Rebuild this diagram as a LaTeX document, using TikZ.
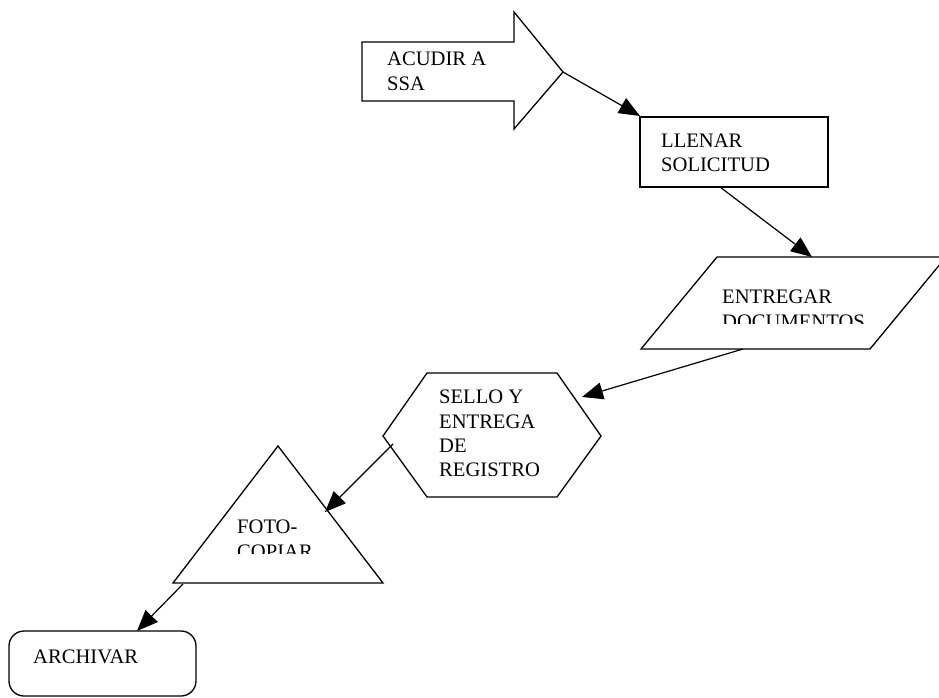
\documentclass[tikz,border=0pt]{standalone}
\usepackage{fontspec}
\setmainfont{Liberation Serif}
\usetikzlibrary{arrows.meta}
\begin{document}
\begin{tikzpicture}[x=1pt,y=-1pt,
  shapeline/.style={draw=black,line width=1.3pt,line join=miter},
  steptext/.style={anchor=north west,inner sep=0pt,align=left,
    font=\fontsize{20.6}{24.2}\selectfont},
  flow/.style={line width=1.2pt,-{Triangle[length=21pt,width=17pt]}}]
\useasboundingbox (0,0) rectangle (939,698);
\clip (0,0) rectangle (939,698);

% block arrow: ACUDIR A SSA
\draw[shapeline] (362,42) -- (514,42) -- (514,12) -- (563,72)
  -- (514,129) -- (514,101) -- (362,101) -- cycle;
\node[steptext] (acudir) at (387,52) {ACUDIR A\\SSA};
\coordinate (acudir-tip) at (563,72);

% process box: LLENAR SOLICITUD
\draw[shapeline] (640,117) rectangle (828,187);
\node[steptext] (llenar) at (661,134) {LLENAR\\SOLICITUD};
\coordinate (llenar-in) at (640,116);
\coordinate (llenar-out) at (720,187);

% data box: ENTREGAR DOCUMENTOS
\draw[shapeline] (641,349) -- (870,349) -- (946,257) -- (717,257) -- cycle;
\begin{scope}
  \clip (700,270) rectangle (900,323);
  \node[steptext] (entregar) at (722,290) {ENTREGAR\\DOCUMENTOS};
\end{scope}
\coordinate (entregar-in) at (812,257);
\coordinate (entregar-out) at (743,349);

% hexagon: SELLO Y ENTREGA DE REGISTRO
\draw[shapeline] (383,436) -- (427,373) -- (557,373) -- (601,436)
  -- (557,497) -- (427,497) -- cycle;
\node[steptext] (sello) at (439,390) {SELLO Y\\ENTREGA\\DE\\REGISTRO};
\coordinate (sello-in) at (582,397);
\coordinate (sello-out) at (393,444);

% triangle: FOTO-COPIAR
\draw[shapeline] (173,583) -- (278,446) -- (383,583) -- cycle;
\begin{scope}
  \clip (220,500) rectangle (340,553);
  \node[steptext] (foto) at (237,520) {FOTO-\\COPIAR};
\end{scope}
\coordinate (foto-in) at (325,512);
\coordinate (foto-out) at (183,584);

% terminal: ARCHIVAR
\draw[shapeline,rounded corners=15pt] (9,631) rectangle (196,696);
\node[steptext] (archivar) at (33,650) {ARCHIVAR};
\coordinate (archivar-in) at (137,631);

% connectors
\draw[flow] (acudir-tip) -- (llenar-in);
\draw[flow] (llenar-out) -- (entregar-in);
\draw[flow] (entregar-out) -- (sello-in);
\draw[flow] (sello-out) -- (foto-in);
\draw[flow] (foto-out) -- (archivar-in);
\end{tikzpicture}
\end{document}
